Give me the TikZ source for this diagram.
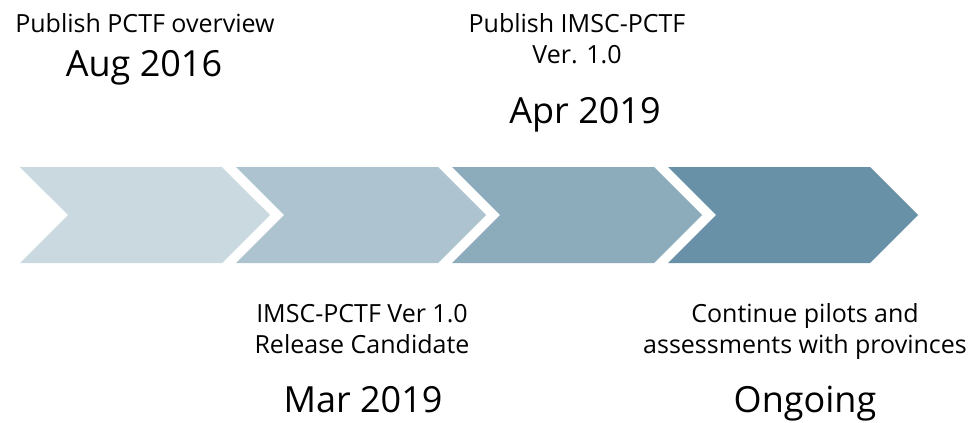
\documentclass[tikz,border=0pt]{standalone}
\usepackage{fontspec}
\setmainfont{Open Sans}
\usetikzlibrary{shapes.symbols,positioning}

\definecolor{stepA}{HTML}{CAD9E0}
\definecolor{stepB}{HTML}{ADC3CF}
\definecolor{stepC}{HTML}{8CABBB}
\definecolor{stepD}{HTML}{6891A7}

\begin{document}
\begin{tikzpicture}[x=1pt,y=-1pt,
    chevron/.style={signal,
        signal to=east,
        signal from=west,
        minimum width=250pt,
        minimum height=96pt,
        inner sep=0,
        outer sep=0},
    label/.style={align=center,anchor=base,
        font=\fontsize{25}{31}\selectfont},
    date/.style={anchor=base,
        font=\fontsize{36}{44}\selectfont}]

\useasboundingbox (0,0) rectangle (970,423);

% Chevrons
\node[chevron,fill=stepA] (step1) at (145,215) {};
\node[chevron,fill=stepB] (step2) at (361,215) {};
\node[chevron,fill=stepC] (step3) at (577,215) {};
\node[chevron,fill=stepD] (step4) at (793,215) {};

% Top milestones (base = last line)
\node[label] (text1) at (145,32) {Publish PCTF overview};
\node[date] (date1) at (144,76) {Aug 2016};

\node[label] (text3) at (577,63) {Publish IMSC-PCTF\\Ver. 1.0};
\node[date] (date3) at (585,123) {Apr 2019};

% Bottom milestones
\node[label] (text2) at (362,353) {IMSC-PCTF Ver 1.0\\Release Candidate};
\node[date] (date2) at (363,412) {Mar 2019};

\node[label] (text4) at (805,353) {Continue pilots and\\assessments with provinces};
\node[date] (date4) at (805,412) {Ongoing};

\end{tikzpicture}
\end{document}
